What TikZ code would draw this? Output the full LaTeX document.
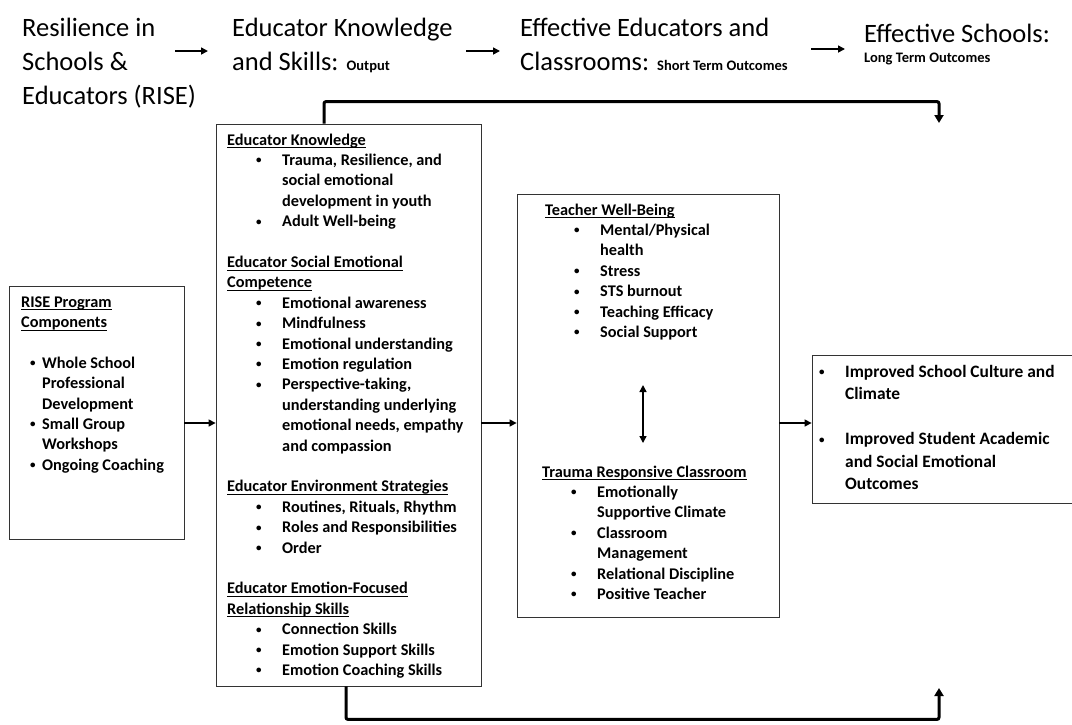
\documentclass[tikz,border=0pt]{standalone}
\usepackage{fontspec}
\setmainfont{Carlito}
\usepackage{tikz}
\usetikzlibrary{arrows.meta,%
                shapes,positioning}

\setlength{\parindent}{0pt}
\newcommand{\subtxt}{\fontsize{14.5}{17}\selectfont\bfseries}
\newcommand{\bdot}{\raisebox{1.5pt}{\fontsize{11}{11}\selectfont\textbullet}}
% underlined heading line
\newcommand{\hd}[1]{\leavevmode\setbox0\hbox{#1}\rlap{\rule[-3pt]{\wd0}{0.9pt}}\box0}
% bullet lines, the text kept in a parbox
\newcommand{\kitem}[1]{\par\noindent\hspace*{29pt}\makebox[26pt][l]{\bdot}\parbox[t]{200pt}{\raggedright#1\strut}\par\prevdepth=\dp\strutbox}
\newcommand{\ritem}[1]{\par\noindent\hspace*{9pt}\makebox[12pt][l]{\bdot}\parbox[t]{140pt}{\raggedright#1\strut}\par\prevdepth=\dp\strutbox}
\newcommand{\litem}[1]{\noindent\makebox[26pt][l]{\bdot}\parbox[t]{230pt}{\raggedright#1\strut}\par\prevdepth=\dp\strutbox}

\begin{document}
\begin{tikzpicture}[x=1pt,y=-1pt,
  box/.style={draw=black!80, line width=0.8pt, inner sep=0pt},
  head/.style={font=\fontsize{26.5}{34}\selectfont, text width=#1, align=flush left, inner sep=0pt, anchor=base west},
  body/.style={font=\fontsize{16.3}{20.4}\selectfont\bfseries, text width=#1, align=flush left, inner sep=0pt, anchor=base west},
  harr/.style={line width=1.6pt, -{Triangle[length=7pt,width=7pt]}},
  conn/.style={line width=1.4pt, -{Triangle[length=7pt,width=7pt]}},
  bypass/.style={line width=3pt, rounded corners=2pt, -{Triangle[length=8pt,width=9pt]}}]
\useasboundingbox (0,0) rectangle (1072,724);

%headings
\node[head=200] (hrise) at (22,36) {Resilience in\\Schools \&\\Educators (RISE)};
\node[head=240] (hknow) at (232,36) {Educator Knowledge\\and Skills: {\subtxt Output}};
\node[head=300] (hshort) at (520,36) {Effective Educators and\\Classrooms: {\subtxt Short Term Outcomes}};
\node[head=200] (hlong) at (864,42) {Effective Schools:};
\node[font=\subtxt, inner sep=0pt, anchor=base west] (hlongsub) at ([yshift=-20pt]hlong.base west) {Long Term Outcomes};
\draw[harr] ([xshift=-57pt,yshift=-15pt]hknow.base west) -- ([xshift=-24pt,yshift=-15pt]hknow.base west);
\draw[harr] ([xshift=-54pt,yshift=-15pt]hshort.base west) -- ([xshift=-20pt,yshift=-15pt]hshort.base west);
\draw[harr] ([xshift=-53pt,yshift=-7pt]hlong.base west) -- ([xshift=-19pt,yshift=-7pt]hlong.base west);

%boxes
\node[box, minimum width=175, minimum height=253] (rise) at (96.5,412.5) {};
\node[box, minimum width=265, minimum height=562] (know) at (348.5,405) {};
\node[box, minimum width=262, minimum height=423] (short) at (648,405.5) {};
\node[box, minimum width=270, minimum height=148] (long) at (947,429) {};

\node[body=160] (risetext) at (21,307) {
\hd{RISE Program}\\\hd{Components}
\par\vspace{20.4pt}
\ritem{Whole School\\Professional\\Development}
\ritem{Small Group\\Workshops}
\ritem{Ongoing Coaching}};

\node[body=260] (knowtext) at (227,145) {
\hd{Educator Knowledge}
\kitem{Trauma, Resilience, and\\social emotional\\development in youth}
\kitem{Adult Well-being}
\par\vspace{20.4pt}
\hd{Educator Social Emotional}\\\hd{Competence}
\kitem{Emotional awareness}
\kitem{Mindfulness}
\kitem{Emotional understanding}
\kitem{Emotion regulation}
\kitem{Perspective-taking,\\understanding underlying\\emotional needs, empathy\\and compassion}
\par\vspace{20.4pt}
\hd{Educator Environment Strategies}
\kitem{Routines, Rituals, Rhythm}
\kitem{Roles and Responsibilities}
\kitem{Order}
\par\vspace{20.4pt}
\hd{Educator Emotion-Focused}\\\hd{Relationship Skills}
\kitem{Connection Skills}
\kitem{Emotion Support Skills}
\kitem{Emotion Coaching Skills}};

\node[body=230] (wellbeing) at (545,215) {
\hd{Teacher Well-Being}
\kitem{Mental/Physical\\health}
\kitem{Stress}
\kitem{STS burnout}
\kitem{Teaching Efficacy}
\kitem{Social Support}};

\node[body=235] (classroom) at (542,477) {
\hd{Trauma Responsive Classroom}
\kitem{Emotionally\\Supportive Climate}
\kitem{Classroom\\Management}
\kitem{Relational Discipline}
\kitem{Positive Teacher}};

\node[body=260, font=\fontsize{17.4}{22.5}\selectfont\bfseries] (longtext) at (819,377) {%
\litem{Improved School Culture and\\Climate}
\vspace{22.5pt}
\litem{Improved Student Academic\\and Social Emotional\\Outcomes}};

%connectors
\coordinate (mid) at (0,423);
\coordinate (topend) at (939,123);
\coordinate (botend) at (939,688);
\draw[conn] (rise.east |- mid) -- (know.west |- mid);
\draw[conn] (know.east |- mid) -- (short.west |- mid);
\draw[conn] (short.east |- mid) -- (long.west |- mid);
\draw[conn, arrows={Triangle[length=7pt,width=7pt]-Triangle[length=7pt,width=7pt]}] ([xshift=-5pt,yshift=20.5pt]short.center) -- ([xshift=-5pt,yshift=-37.5pt]short.center);
\draw[bypass] ([xshift=-24.5pt]know.north) -- ++(0,-22) -| (topend);
\draw[bypass] ([xshift=-2.5pt]know.south) -- ++(0,33) -| (botend);
\end{tikzpicture}
\end{document}
